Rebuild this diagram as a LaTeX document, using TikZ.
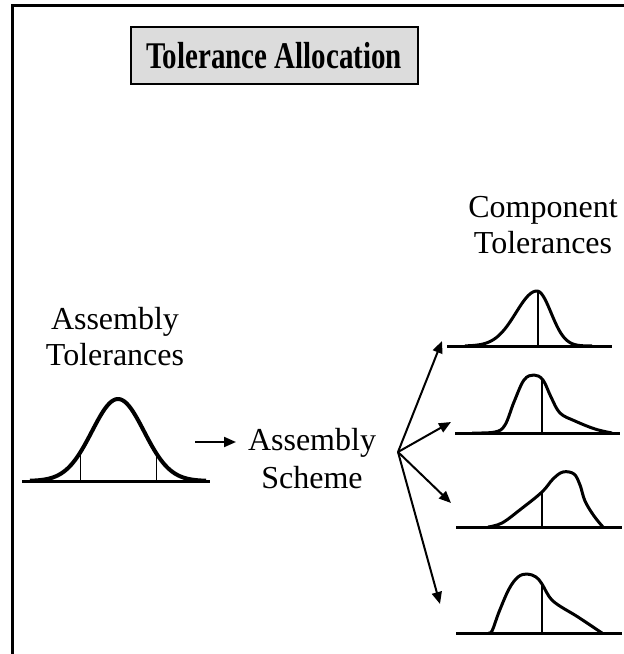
\documentclass[tikz,border=0pt]{standalone}
\usepackage{fontspec}
\setmainfont{Liberation Serif}
\usetikzlibrary{arrows.meta}
\begin{document}
\begin{tikzpicture}[x=1pt,y=-1pt,
  lbl/.style={font=\fontsize{32}{36}\selectfont, inner sep=0pt, anchor=base},
  curve/.style={line width=3pt, line join=round},
  base/.style={line width=3pt},
  mark line/.style={line width=2.5pt},
  arr/.style={line width=2pt, -{Triangle[length=12pt,width=10pt]}}]
\useasboundingbox (0,0) rectangle (624,654);
% frame
\draw[line width=3pt] (12,654) -- (12,5) -- (624,5);
% title
\node[draw, line width=2pt, fill={rgb,255:red,220;green,220;blue,220}, minimum width=287pt, minimum height=57pt, inner sep=0pt,
  font=\fontsize{29}{34}\selectfont\bfseries] (title) at (274,55.5) {\raisebox{-2pt}{\scalebox{1}[1.3]{Tolerance Allocation}}};
% labels
\node[lbl] (at1) at (115,329) {Assembly};
\node[lbl] (at2) at (115,365) {Tolerances};
\node[lbl] (ct1) at (543,217) {Component};
\node[lbl] (ct2) at (543,253) {Tolerances};
\node[lbl] (as1) at (312,450) {Assembly};
\node[lbl] (as2) at (312,488) {Scheme};
% main curve
\draw[base] (22,481) -- (210,481);
\draw[line width=4pt, line join=round] plot[domain=30:206, samples=90, smooth] (\x,{481-82*exp(-((\x-118)^2)/(2*26^2))});
\draw[line width=1pt] (80,481) -- (80,{481-82*exp(-(38^2)/(2*26^2))});
\draw[line width=1pt] (156,481) -- (156,{481-82*exp(-(38^2)/(2*26^2))});
% arrow to scheme
\coordinate (a0) at (195,442);
\draw[arr] (a0) -- (236,442);
% fan
\coordinate (fan) at (398,452);
\coordinate (t1) at (442,341);
\coordinate (t2) at (451,422);
\coordinate (t3) at (451,503);
\coordinate (t4) at (440,604);
\foreach \t in {t1,t2,t3,t4} \draw[arr] (fan) -- (\t);
% component 1
\draw[base] (447,346) -- (612,346);
\draw[curve] plot[domain=465:537, samples=50, smooth] (\x,{346-55*exp(-((\x-537)^2)/(2*21^2))})
  -- plot[domain=537:592, samples=40, smooth] (\x,{346-55*exp(-((\x-537)^2)/(2*14^2))});
\draw[mark line] (538,346) -- (538,291);
% component 2
\draw[base] (455,433) -- (620,433);
\draw[curve] plot[smooth, tension=0.6] coordinates {(472,433) (495,432) (505,425) (514,402) (524,380) (534,375) (543,380) (551,397) (560,413) (575,421) (595,429) (612,433)};
\draw[mark line] (542,433) -- (542,379);
% component 3
\draw[base] (456,527) -- (622,527);
\draw[curve] plot[smooth, tension=0.6] coordinates {(488,527) (502,523) (521,509) (542,492) (553,479) (563,472) (574,474) (580,485) (585,501) (594,516) (603,527)};
\draw[mark line] (542,527) -- (542,492);
% component 4
\draw[base] (456,633) -- (622,633);
\draw[curve] plot[smooth, tension=0.6] coordinates {(488,633) (492,631) (499,612) (509,589) (518,577) (527,574) (536,577) (542,584) (553,601) (578,617) (602,633)};
\draw[mark line] (542,633) -- (542,584);
\end{tikzpicture}
\end{document}
